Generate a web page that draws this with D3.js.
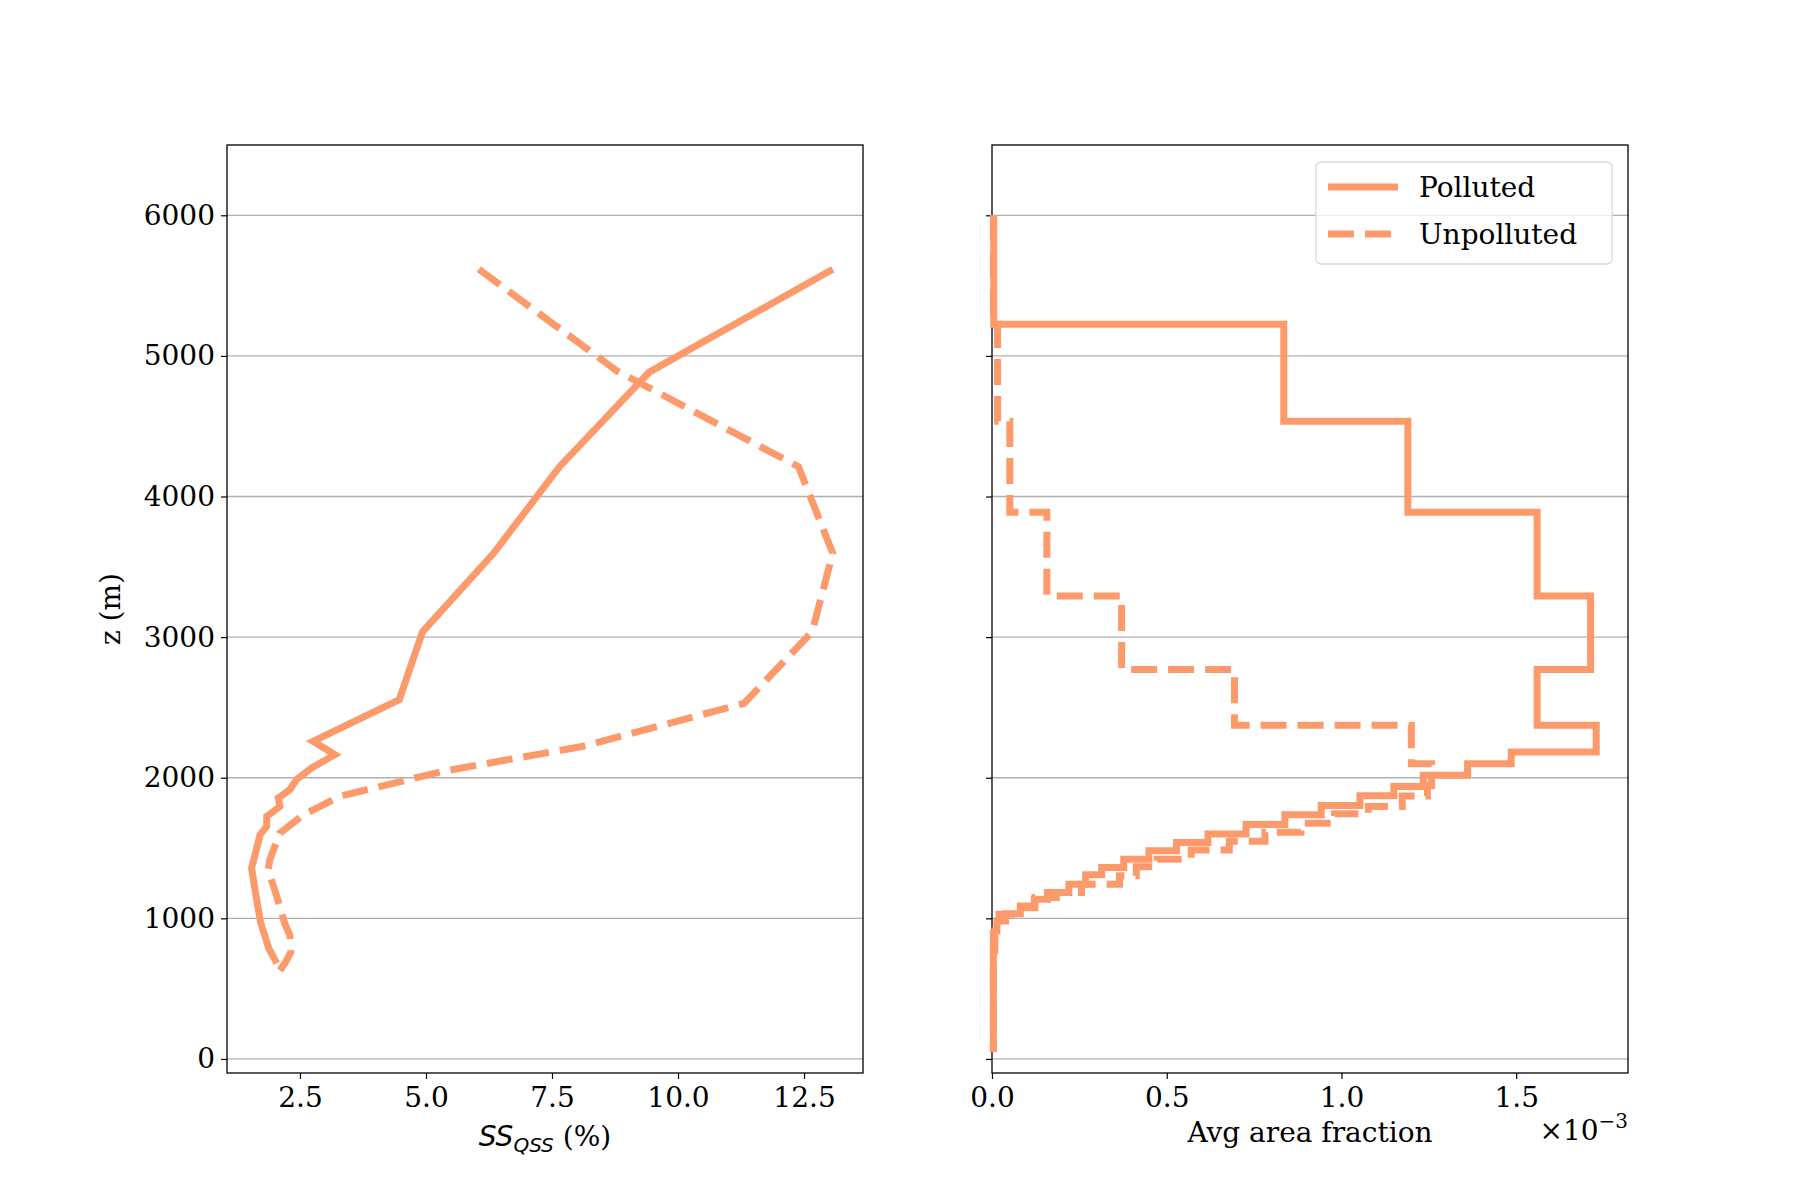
<!DOCTYPE html>
<html>
<head>
<meta charset="utf-8">
<script src="https://cdn.jsdelivr.net/npm/d3@7"></script>
<style>
  body { margin: 0; background: white; }
  svg { font-family: "DejaVu Serif", serif; }
</style>
</head>
<body>
<svg id="chart" width="1800" height="1200"></svg>
<script>
// left panel: supersaturation profiles (x = SS %, z = height m)
var pollutedSS = [13.07, 9.43, 7.65, 6.34, 4.93, 4.47, 2.76, 3.19, 2.73, 2.43, 2.30, 2.07, 2.10, 1.84, 1.84, 1.71, 1.54, 1.64, 1.72, 1.88, 2.04];
var pollutedZ  = [5616, 4885, 4212, 3596, 3038, 2555, 2259, 2164, 2069, 1987, 1915, 1856, 1796, 1725, 1654, 1596, 1357, 1133, 969, 788, 680];
var unpollutedSS = [6.05, 8.79, 12.39, 13.07, 12.66, 11.31, 8.12, 5.34, 3.29, 2.57, 2.10, 1.90, 1.87, 2.04, 2.2, 2.3, 2.32, 2.2, 2.1];
var unpollutedZ  = [5616, 4893, 4212, 3596, 3038, 2529, 2224, 2046, 1868, 1737, 1606, 1416, 1346, 1155, 960, 880, 760, 680, 630];

// right panel: stepped area fraction (x1e-3), bin edges top -> bottom
var pollutedEdges = [6000, 5226, 4536, 3888, 3293, 2769, 2374, 2183, 2100, 2017, 1938, 1871, 1802, 1736, 1667, 1600, 1540, 1481, 1421, 1362, 1310, 1243, 1183, 1136, 1088, 1033, 981, 910, 767, 50];
var pollutedFrac  = [0.005, 0.835, 1.19, 1.56, 1.713, 1.56, 1.729, 1.486, 1.361, 1.234, 1.150, 1.053, 0.942, 0.838, 0.727, 0.618, 0.528, 0.449, 0.377, 0.314, 0.268, 0.220, 0.159, 0.121, 0.081, 0.039, 0.014, 0.008, 0.004];
var unpollutedEdges = [6000, 5226, 4536, 3888, 3293, 2769, 2374, 2100, 1945, 1870, 1795, 1743, 1676, 1612, 1548, 1486, 1421, 1367, 1302, 1243, 1183, 1148, 1076, 1029, 981, 900, 50];
var unpollutedFrac  = [0.004, 0.016, 0.051, 0.157, 0.371, 0.694, 1.20, 1.258, 1.246, 1.174, 1.077, 0.98, 0.884, 0.781, 0.679, 0.57, 0.473, 0.413, 0.365, 0.256, 0.184, 0.123, 0.075, 0.02, 0.004, 0.004];

var zTicks = [0, 1000, 2000, 3000, 4000, 5000, 6000];
var ssTicks = [2.5, 5.0, 7.5, 10.0, 12.5];
var fracTicks = [0.0, 0.5, 1.0, 1.5];

var color = "#fd9a6c";
var svg = d3.select("#chart");
var plotTop = 145, plotBottom = 1073;

var y = d3.scaleLinear().domain([-100, 6500]).range([plotBottom, plotTop]);
var xL = d3.scaleLinear().domain([1.052, 13.67]).range([227, 863]);
var xR = d3.scaleLinear().domain([0, 1.82]).range([992, 1628]);

function panel(x, xticks, showY) {
  var x0 = x.range()[0], x1 = x.range()[1];
  var g = svg.append("g");
  // grid
  g.selectAll("line.grid").data(zTicks).join("line")
    .attr("x1", x0).attr("x2", x1)
    .attr("y1", d => y(d)).attr("y2", d => y(d))
    .attr("stroke", "#b0b0b0").attr("stroke-width", 1.3);
  var ya = g.append("g").attr("transform", "translate(" + x0 + ",0)")
    .call(d3.axisLeft(y).tickValues(zTicks).tickSize(6).tickPadding(6)
      .tickFormat(showY ? d3.format("d") : () => ""));
  var xa = g.append("g").attr("transform", "translate(0," + plotBottom + ")")
    .call(d3.axisBottom(x).tickValues(xticks).tickSize(6).tickPadding(8)
      .tickFormat(d3.format(".1f")));
  [ya, xa].forEach(a => {
    a.select(".domain").remove();
    a.selectAll("text").attr("font-size", 28).attr("fill", "black").attr("font-family", "DejaVu Serif");
    a.selectAll("line").attr("stroke", "black").attr("stroke-width", 1.2);
  });
  g.append("rect").attr("x", x0).attr("y", plotTop).attr("width", x1 - x0).attr("height", plotBottom - plotTop)
    .attr("fill", "none").attr("stroke", "black").attr("stroke-width", 1.3);
  return g;
}

panel(xL, ssTicks, true);
panel(xR, fracTicks, false);

var line = d3.line().x(d => xL(d[0])).y(d => y(d[1]));
svg.append("path").datum(d3.zip(pollutedSS, pollutedZ)).attr("d", line)
  .attr("fill", "none").attr("stroke", color).attr("stroke-width", 7).attr("stroke-linejoin", "miter");
svg.append("path").datum(d3.zip(unpollutedSS, unpollutedZ)).attr("d", line)
  .attr("fill", "none").attr("stroke", color).attr("stroke-width", 7).attr("stroke-dasharray", "26,11");

function stairs(edges, vals) {
  var pts = [];
  vals.forEach((v, i) => { pts.push([v, edges[i]]); pts.push([v, edges[i + 1]]); });
  return pts;
}
var sline = d3.line().x(d => xR(d[0])).y(d => y(d[1]));
svg.append("path").datum(stairs(pollutedEdges, pollutedFrac)).attr("d", sline)
  .attr("fill", "none").attr("stroke", color).attr("stroke-width", 7).attr("stroke-linejoin", "miter");
svg.append("path").datum(stairs(unpollutedEdges, unpollutedFrac)).attr("d", sline)
  .attr("fill", "none").attr("stroke", color).attr("stroke-width", 7).attr("stroke-dasharray", "26,11");

// labels
svg.append("text").attr("transform", "translate(120," + ((plotTop + plotBottom) / 2) + ") rotate(-90)")
  .attr("text-anchor", "middle").attr("font-size", 28).text("z (m)");
var xl = svg.append("text").attr("x", (227 + 863) / 2).attr("y", 1146).attr("text-anchor", "middle").attr("font-size", 28);
xl.append("tspan").attr("font-family", "DejaVu Sans").attr("font-style", "oblique").text("SS");
xl.append("tspan").attr("font-family", "DejaVu Sans").attr("font-style", "oblique").attr("font-size", 20).attr("dy", 6).text("QSS");
xl.append("tspan").attr("dy", -6).text(" (%)");
svg.append("text").attr("x", (992 + 1628) / 2).attr("y", 1142).attr("text-anchor", "middle").attr("font-size", 28).text("Avg area fraction");
var ex = svg.append("text").attr("x", 1628).attr("y", 1140).attr("text-anchor", "end").attr("font-size", 28);
ex.append("tspan").text("×10");
ex.append("tspan").attr("font-size", 20).attr("dy", -12).text("−3");

// legend
var lg = svg.append("g");
lg.append("rect").attr("x", 1316).attr("y", 162).attr("width", 296).attr("height", 102).attr("rx", 5)
  .attr("fill", "white").attr("fill-opacity", 0.8).attr("stroke", "#d9d9d9").attr("stroke-width", 1.3);
[["Polluted", null, 187], ["Unpolluted", "26,11", 234]].forEach(r => {
  lg.append("line").attr("x1", 1328).attr("x2", 1398).attr("y1", r[2]).attr("y2", r[2])
    .attr("stroke", color).attr("stroke-width", 7).attr("stroke-dasharray", r[1]);
  lg.append("text").attr("x", 1419).attr("y", r[2] + 10).attr("font-size", 28).text(r[0]);
});
</script>
</body>
</html>
